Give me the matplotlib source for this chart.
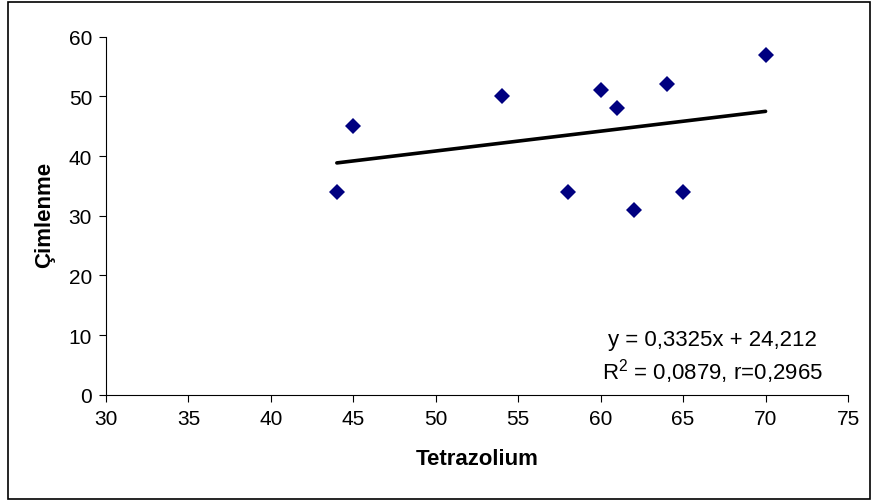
import numpy as np
import matplotlib
matplotlib.use("Agg")
import matplotlib.pyplot as plt
from matplotlib.patches import Rectangle

plt.rcParams['font.family'] = ['Liberation Sans', 'DejaVu Sans']
plt.rcParams['mathtext.default'] = 'regular'

# values
tetrazolium = [44, 45, 54, 58, 60, 61, 62, 64, 65, 70]
cimlenme = [34, 45, 50, 34, 51, 48, 31, 52, 34, 57]
xticks = [30, 35, 40, 45, 50, 55, 60, 65, 70, 75]
yticks = [0, 10, 20, 30, 40, 50, 60]
eq_text = "y = 0,3325x + 24,212"
r_text = "R$^2$ = 0,0879, r=0,2965"

fig = plt.figure(figsize=(8.71, 5.02), dpi=100)
ax = fig.add_axes([0.1217, 0.2118, 0.8519, 0.7131])

ax.plot(tetrazolium, cimlenme, linestyle='none', marker='D', markersize=7.8,
        color='#000080', markeredgewidth=0, zorder=3)

# linear trendline
slope, intercept = np.polyfit(tetrazolium, cimlenme, 1)
xs = np.array([min(tetrazolium), max(tetrazolium)])
ax.plot(xs, slope * xs + intercept, color='black', linewidth=2.6,
        solid_capstyle='round', zorder=2)

ax.set_xlim(30, 75)
ax.set_ylim(0, 60)
ax.set_xticks(xticks)
ax.set_yticks(yticks)
ax.tick_params(direction='out', length=5, width=0.8, labelsize=15, pad=5)
for side in ['top', 'right']:
    ax.spines[side].set_visible(False)
for side in ['left', 'bottom']:
    ax.spines[side].set_linewidth(0.8)

fig.text(0.5476, 0.0837, "Tetrazolium", ha='center', va='center',
         fontsize=16, fontweight='bold')
fig.text(0.0517, 0.5717, "Çimlenme", ha='center', va='center',
         fontsize=16, fontweight='bold', rotation=90)

fig.text(0.8175, 0.3108, eq_text, ha='center', va='baseline', fontsize=16)
fig.text(0.8175, 0.245, r_text, ha='center', va='baseline', fontsize=16)

# chart area border
fig.patches.append(Rectangle((8 / 871, 2 / 502), 862 / 871, 497 / 502,
                             transform=fig.transFigure, fill=False,
                             edgecolor='black', linewidth=1.2))

fig.savefig("out.png", dpi=100)
